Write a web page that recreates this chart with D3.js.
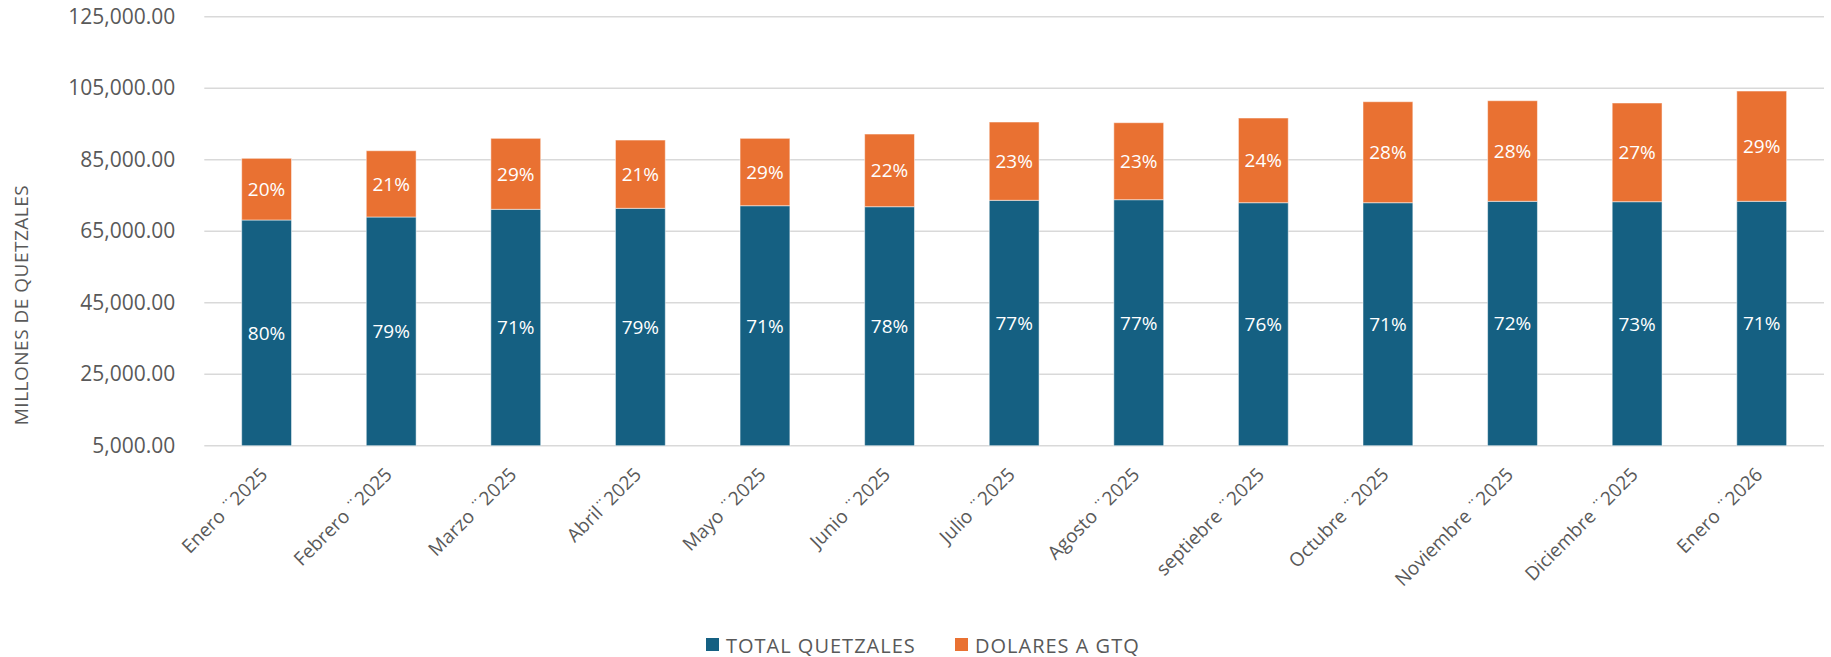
<!DOCTYPE html>
<html>
<head>
<meta charset="utf-8">
<script src="https://cdn.jsdelivr.net/npm/d3@7"></script>
<style>
  body { margin: 0; background: #fff; }
  text { font-family: "Open Sans", sans-serif; }
</style>
</head>
<body>
<div id="chart"></div>
<script>
// datos (millones de quetzales)
var months = ["Enero ¨2025", "Febrero ¨2025", "Marzo ¨2025", "Abril¨2025", "Mayo ¨2025", "Junio ¨2025",
  "Julio ¨2025", "Agosto ¨2025", "septiebre ¨2025", "Octubre ¨2025", "Noviembre ¨2025", "Diciembre ¨2025", "Enero ¨2026"];
var totalQuetzales = [68130, 68970, 71120, 71400, 72130, 71850, 73640, 73810, 72970, 72970, 73360, 73250, 73360];
var dolaresGtq = [17260, 18540, 19860, 19100, 18850, 20330, 21900, 21540, 23690, 28250, 28140, 27610, 30850];
var pctQuetzales = ["80%", "79%", "71%", "79%", "71%", "78%", "77%", "77%", "76%", "71%", "72%", "73%", "71%"];
var pctDolares = ["20%", "21%", "29%", "21%", "29%", "22%", "23%", "23%", "24%", "28%", "28%", "27%", "29%"];
var yTicks = [5000, 25000, 45000, 65000, 85000, 105000, 125000];
var seriesNames = ["TOTAL QUETZALES", "DOLARES A GTQ"];
var colors = ["#156082", "#e97132"];

var W = 1831, H = 657;
var margin = { top: 16.7, right: 7, bottom: 211.3, left: 204.3 };
var iw = W - margin.left - margin.right,
    ih = H - margin.top - margin.bottom;
var base = 5000; // the axis starts at 5,000 so bars begin there

var svg = d3.select("#chart").append("svg")
    .attr("width", W)
    .attr("height", H);

var g = svg.append("g").attr("transform", "translate(" + margin.left + "," + margin.top + ")");

var x = d3.scaleBand().domain(months).range([0, iw]).paddingInner(0.6).paddingOuter(0.3);
var y = d3.scaleLinear().domain([5000, 125000]).range([ih, 0]);

// gridlines
g.append("g").selectAll("line")
  .data(yTicks)
  .enter().append("line")
    .attr("x1", 0).attr("x2", iw)
    .attr("y1", d => y(d)).attr("y2", d => y(d))
    .attr("stroke", "#d9d9d9")
    .attr("stroke-width", 1.5);

// y axis labels
var yAxis = d3.axisLeft(y).tickValues(yTicks).tickSize(0).tickPadding(29)
  .tickFormat(d3.format(",.2f"));
g.append("g").call(yAxis)
  .call(s => s.select(".domain").remove())
  .selectAll("text")
    .attr("fill", "#595959")
    .style("font-size", "21px");

// stacked data
var rows = months.map(function(m, i) {
  return { month: m, q: totalQuetzales[i], d: dolaresGtq[i], pq: pctQuetzales[i], pd: pctDolares[i] };
});
var layers = d3.stack().keys(["q", "d"])(rows);

function lower(d) { return d[0] === 0 ? base : d[0]; }

var layer = g.selectAll(".layer")
  .data(layers)
  .enter().append("g")
    .attr("class", "layer")
    .attr("fill", (d, i) => colors[i]);

layer.selectAll("rect")
  .data(d => d)
  .enter().append("rect")
    .attr("x", d => x(d.data.month))
    .attr("width", x.bandwidth())
    .attr("y", d => y(d[1]))
    .attr("height", d => y(lower(d)) - y(d[1]))
    .attr("stroke", "rgba(255,255,255,0.5)")
    .attr("stroke-width", 1);

// percent labels
layer.selectAll("text")
  .data((d, i) => d.map(p => ({ p: p, key: i })))
  .enter().append("text")
    .attr("x", d => x(d.p.data.month) + x.bandwidth() / 2)
    .attr("y", d => (y(lower(d.p)) + y(d.p[1])) / 2)
    .attr("text-anchor", "middle")
    .attr("dominant-baseline", "central")
    .attr("fill", "#fff")
    .style("font-size", "19px")
    .text(d => d.key === 0 ? d.p.data.pq : d.p.data.pd);

// x labels rotated
g.append("g").selectAll("text")
  .data(months)
  .enter().append("text")
    .attr("transform", d => "translate(" + (x(d) + x.bandwidth() / 2 + 2) + "," + (ih + 30) + ") rotate(-45)")
    .attr("text-anchor", "end")
    .attr("fill", "#595959")
    .style("font-size", "19px")
    .text(d => d);

// y axis title
svg.append("text")
  .attr("transform", "translate(28,305) rotate(-90)")
  .attr("text-anchor", "middle")
  .attr("fill", "#595959")
  .style("font-size", "19px")
  .style("letter-spacing", "0.5px")
  .text("MILLONES DE QUETZALES");

// legend
var legend = svg.append("g").attr("transform", "translate(706,645)");
var lx = [0, 249];
seriesNames.forEach(function(name, i) {
  var it = legend.append("g").attr("transform", "translate(" + lx[i] + ",0)");
  it.append("rect").attr("x", 0).attr("y", -7).attr("width", 13).attr("height", 13).attr("fill", colors[i]);
  it.append("text").attr("x", 20).attr("y", 0)
    .attr("dominant-baseline", "central")
    .attr("fill", "#595959")
    .style("font-size", "20px")
    .style("letter-spacing", "1px")
    .text(name);
});
</script>
</body>
</html>
